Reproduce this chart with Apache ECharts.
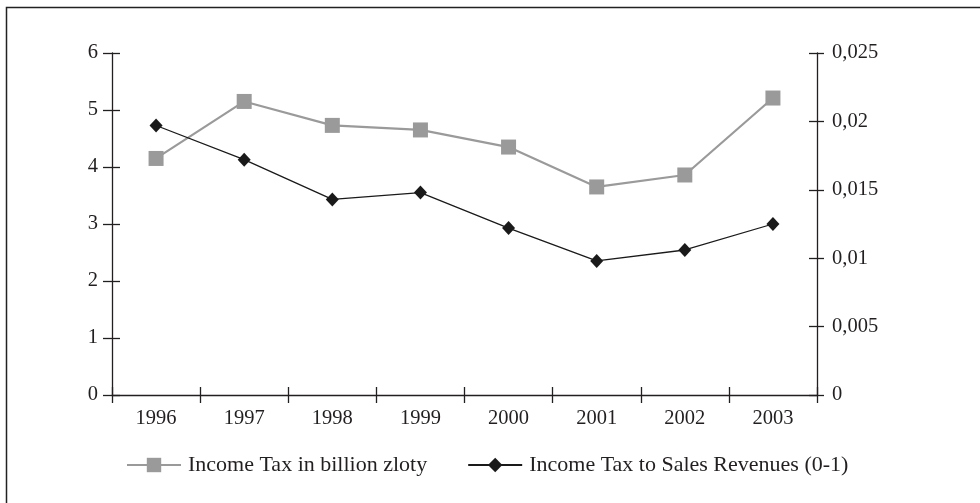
<!DOCTYPE html>
<html>
<head>
<meta charset="utf-8">
<script src="https://cdn.jsdelivr.net/npm/echarts@6/dist/echarts.min.js"></script>
<style>html,body{margin:0;padding:0;background:#fff}#c{width:980px;height:503px}</style>
</head>
<body>
<div id="c"></div>
<script>
const years = ['1996','1997','1998','1999','2000','2001','2002','2003'];
const incomeTax = [4.15, 5.15, 4.73, 4.65, 4.35, 3.65, 3.86, 5.21];
const taxToSales = [0.0197, 0.0172, 0.0143, 0.0148, 0.0122, 0.0098, 0.0106, 0.0125];
const leftTicks = [0, 1, 2, 3, 4, 5, 6];
const rightTicks = [0, 0.005, 0.01, 0.015, 0.02, 0.025];
const seriesNames = ['Income Tax in billion zloty', 'Income Tax to Sales Revenues (0-1)'];

const FONT = '"Liberation Serif", "DejaVu Serif", serif';
const INK = '#231f20';
const chart = echarts.init(document.getElementById('c'), null, {renderer: 'canvas'});
const axisLine = {show: true, lineStyle: {color: INK, width: 1.3}};
const fmtRight = v => String(+v.toFixed(3)).replace('.', ',');

chart.setOption({
  backgroundColor: '#fff',
  animation: false,
  graphic: [{
    type: 'rect', left: 4, top: 5,
    shape: {width: 1000, height: 520},
    style: {fill: 'none', stroke: '#222', lineWidth: 1.5},
    z: -1, silent: true
  }],
  grid: {left: 112, right: 163, top: 53, bottom: 108, containLabel: false},
  legend: {
    left: 121, top: 449,
    itemWidth: 54, itemHeight: 18, itemGap: 40,
    textStyle: {fontFamily: FONT, fontSize: 22, color: INK, padding: [0, 0, 0, 2]},
    data: seriesNames
  },
  xAxis: [{
    type: 'category', data: years, boundaryGap: true,
    axisLine: axisLine,
    axisTick: {show: true, inside: false, length: 8, lineStyle: {color: INK, width: 1.3}},
    axisLabel: {fontFamily: FONT, fontSize: 20.5, color: INK, margin: 13},
    splitLine: {show: false}
  }, {
    type: 'category', data: years, boundaryGap: true, position: 'bottom',
    axisLine: {show: false},
    axisTick: {show: true, inside: true, length: 8, lineStyle: {color: INK, width: 1.3}},
    axisLabel: {show: false}, splitLine: {show: false}
  }],
  yAxis: [{
    type: 'value', position: 'left', min: 0, max: 6, interval: 1,
    axisLine: axisLine,
    axisTick: {show: true, inside: false, length: 9, lineStyle: {color: INK, width: 1.3}},
    axisLabel: {fontFamily: FONT, fontSize: 20.5, color: INK, margin: 14},
    splitLine: {show: false}
  }, {
    type: 'value', position: 'right', min: 0, max: 0.025, interval: 0.005,
    axisLine: axisLine,
    axisTick: {show: true, inside: false, length: 7, lineStyle: {color: INK, width: 1.3}},
    axisLabel: {fontFamily: FONT, fontSize: 20.5, color: INK, margin: 15, formatter: fmtRight},
    splitLine: {show: false}
  }, {
    type: 'value', position: 'left', min: 0, max: 6, interval: 1,
    axisLine: {show: false},
    axisTick: {show: true, inside: true, length: 8, lineStyle: {color: INK, width: 1.3}},
    axisLabel: {show: false}, splitLine: {show: false}
  }, {
    type: 'value', position: 'right', min: 0, max: 0.025, interval: 0.005,
    axisLine: {show: false},
    axisTick: {show: true, inside: true, length: 8, lineStyle: {color: INK, width: 1.3}},
    axisLabel: {show: false}, splitLine: {show: false}
  }],
  series: [{
    name: seriesNames[0], type: 'line', data: incomeTax,
    xAxisIndex: 0, yAxisIndex: 0,
    symbol: 'rect', symbolSize: 15,
    lineStyle: {color: '#9a9a9a', width: 2.2},
    itemStyle: {color: '#9a9a9a'},
    z: 3
  }, {
    name: seriesNames[1], type: 'line', data: taxToSales,
    xAxisIndex: 0, yAxisIndex: 1,
    symbol: 'diamond', symbolSize: [13, 14],
    lineStyle: {color: '#1a1a1a', width: 1.3},
    itemStyle: {color: '#1a1a1a'},
    z: 4
  }]
});
</script>
</body>
</html>
